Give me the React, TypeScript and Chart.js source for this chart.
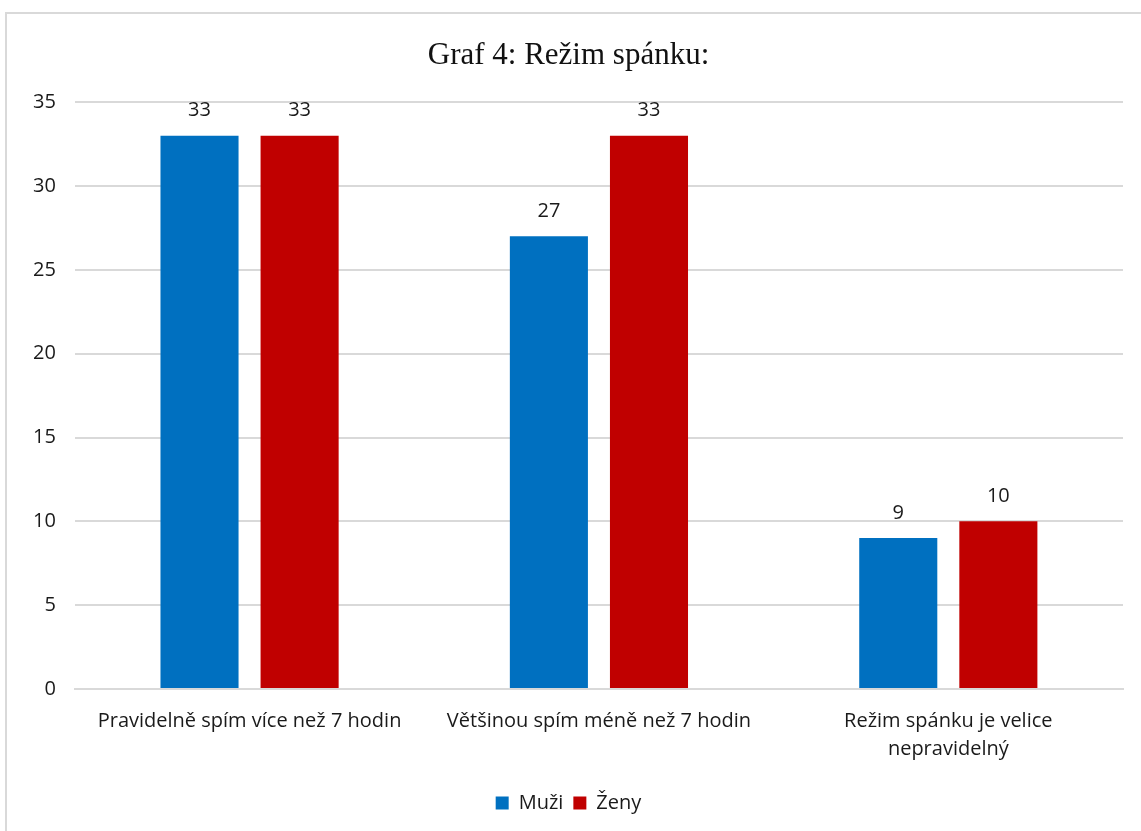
import React, { useEffect, useRef } from "react";
import { Chart, registerables } from "chart.js";

Chart.register(...registerables);

const categories: (string | string[])[] = [
  "Pravidelně spím více než 7 hodin",
  "Většinou spím méně než 7 hodin",
  ["Režim spánku je velice", "nepravidelný"],
];
const muzi = [33, 27, 9];
const zeny = [33, 33, 10];
const yTicks = [0, 5, 10, 15, 20, 25, 30, 35];

const labelPlugin = {
  id: "barLabels",
  afterDatasetsDraw(chart: any) {
    const ctx = chart.ctx;
    ctx.save();
    ctx.font = "20px 'Open Sans', sans-serif";
    ctx.fillStyle = "#1a1a1a";
    ctx.textAlign = "center";
    ctx.textBaseline = "middle";
    chart.data.datasets.forEach((ds: any, i: number) => {
      const meta = chart.getDatasetMeta(i);
      meta.data.forEach((el: any, j: number) => {
        ctx.fillText(String(ds.data[j]), el.x, el.y - 25);
      });
    });
    ctx.restore();
  },
};

export default function App() {
  const ref = useRef<HTMLCanvasElement>(null);
  useEffect(() => {
    if (!ref.current) return;
    const chart = new Chart(ref.current, {
      type: "bar",
      data: {
        labels: categories,
        datasets: [
          { label: "Muži", data: muzi, backgroundColor: "#0070c0" },
          { label: "Ženy", data: zeny, backgroundColor: "#c00000" },
        ],
      },
      options: {
        animation: false,
        responsive: false,
        maintainAspectRatio: false,
        layout: { padding: { left: 14, right: 18, top: 37, bottom: 8 } },
        datasets: { bar: { categoryPercentage: 0.573, barPercentage: 0.78 } } as any,
        plugins: {
          title: {
            display: true,
            text: "Graf 4: Režim spánku:",
            font: { family: "'Liberation Serif', serif", size: 31, weight: "normal" },
            color: "#111111",
            padding: { top: 0, bottom: 28 },
          },
          legend: {
            position: "bottom",
            labels: {
              boxWidth: 13,
              boxHeight: 13,
              padding: 10,
              color: "#1a1a1a",
              font: { family: "'Open Sans', sans-serif", size: 20 },
            },
          },
          tooltip: { enabled: false },
        },
        scales: {
          x: {
            grid: { display: false },
            border: { color: "#d9d9d9", width: 2 },
            afterFit: (axis: any) => {
              axis.height += 10;
            },
            ticks: {
              color: "#1a1a1a",
              font: { family: "'Open Sans', sans-serif", size: 20, lineHeight: 1.4 },
              maxRotation: 0,
              padding: 10,
            },
          },
          y: {
            min: 0,
            max: 35,
            afterBuildTicks: (axis: any) => {
              axis.ticks = yTicks.map((v) => ({ value: v }));
            },
            grid: { color: "#d9d9d9", lineWidth: 2, drawTicks: false },
            border: { display: false },
            ticks: {
              color: "#1a1a1a",
              font: { family: "'Open Sans', sans-serif", size: 20 },
              padding: 19,
            },
          },
        },
      },
      plugins: [labelPlugin],
    });
    return () => chart.destroy();
  }, []);
  return (
    <div style={{ position: "fixed", left: 0, top: 0, width: 1141, height: 831, background: "#fff" }}>
      <div
        style={{
          position: "absolute",
          left: 5,
          top: 12,
          width: 1150,
          height: 840,
          border: "2px solid #d9d9d9",
        }}
      />
      <canvas ref={ref} width={1141} height={831} style={{ position: "absolute", left: 0, top: 0 }} />
    </div>
  );
}
